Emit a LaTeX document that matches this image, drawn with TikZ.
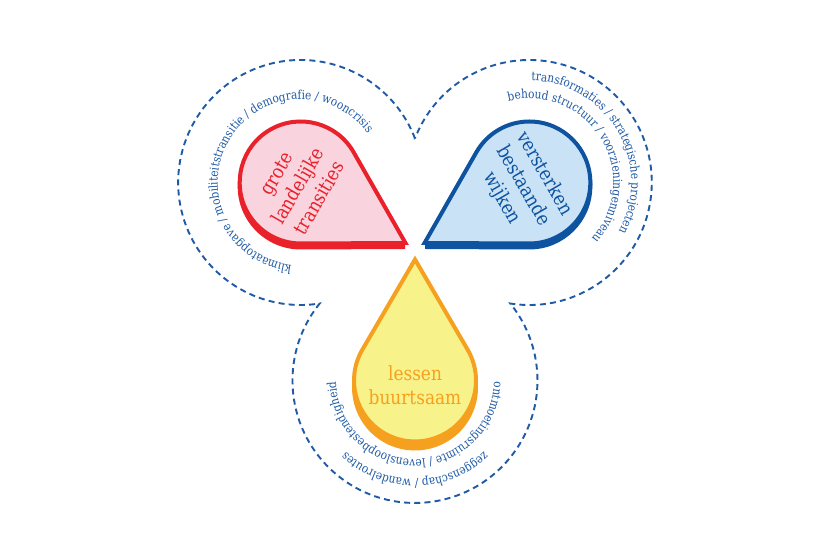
\documentclass[tikz,border=0pt]{standalone}
\usepackage{fontspec}
\setmainfont{DejaVu Serif}
\newfontfamily\outerfam{DejaVu Serif}[FakeStretch=0.86]
\newfontfamily\dropfam{DejaVu Serif}[FakeStretch=0.87]
\usetikzlibrary{decorations.text}
\definecolor{tblue}{HTML}{1F5AA6}
\definecolor{redline}{HTML}{E8212B}
\definecolor{redfill}{HTML}{F9D3DD}
\definecolor{blueline}{HTML}{0D53A0}
\definecolor{bluefill}{HTML}{C9E2F6}
\definecolor{yelfill}{HTML}{F8F28A}
\definecolor{orangeline}{HTML}{F5A01F}
\newcommand{\outerfont}{\outerfam\fontsize{12.3}{14}\selectfont}
\newcommand{\dropfont}{\dropfam\fontsize{19.5}{24.5}\selectfont}
\begin{document}
\begin{tikzpicture}[x=1pt,y=1pt,
  dropline/.style={line width=4pt, line join=miter},
  dashline/.style={draw=tblue, line width=1.9pt, dash pattern=on 6pt off 4.2pt},
  droptext/.style={font=\dropfont, align=center, inner sep=0pt}]
\useasboundingbox (0,0) rectangle (830,553);
\fill[white] (0,0) rectangle (830,553);

% ---- dashed outline: union of three circles ----
\draw[dashline] ([shift={(300.68,370.5)}]21.08:122.5)
  arc[start angle=21.08, end angle=278.92, radius=122.5pt]
  arc[start angle=141.08, end angle=398.92, radius=122.5pt]
  arc[start angle=261.08, end angle=518.92, radius=122.5pt] -- cycle;

% ---- red drop ----
\begin{scope}
  \clip (0,0) rectangle (405,553);
  \begin{scope}[shift={(300.68,366.5)}]
    \filldraw[redline, dropline] (-30:121) -- (29.73:61)
      arc[start angle=29.73, end angle=270.27, radius=61pt] -- cycle;
  \end{scope}
\end{scope}
\begin{scope}[shift={(300.68,370.5)}]
  \filldraw[draw=redline, fill=redfill, dropline] (-30:121) -- (29.73:61)
    arc[start angle=29.73, end angle=270.27, radius=61pt] -- cycle;
\end{scope}

% ---- blue drop ----
\begin{scope}
  \clip (425,0) rectangle (830,553);
  \begin{scope}[shift={(529.32,366.5)}]
    \filldraw[blueline, dropline] (210:121) -- (269.73:61)
      arc[start angle=269.73, end angle=510.27, radius=61pt] -- cycle;
  \end{scope}
\end{scope}
\begin{scope}[shift={(529.32,370.5)}]
  \filldraw[draw=blueline, fill=bluefill, dropline] (210:121) -- (269.73:61)
    arc[start angle=269.73, end angle=510.27, radius=61pt] -- cycle;
\end{scope}

% ---- yellow drop ----
\begin{scope}[shift={(415,165.5)}]
  \filldraw[orangeline, dropline] (90:121) -- (149.73:61)
    arc[start angle=149.73, end angle=390.27, radius=61pt] -- cycle;
\end{scope}
\begin{scope}[shift={(415,172.5)}]
  \filldraw[draw=orangeline, fill=yelfill, dropline] (90:121) -- (149.73:61)
    arc[start angle=149.73, end angle=390.27, radius=61pt] -- cycle;
\end{scope}

% ---- drop texts ----
\node[droptext, text=redline, rotate=60] (redtext) at (298,367) {grote\\landelijke\\transities};
\node[droptext, text=blueline, rotate=-60] (bluetext) at (523,367) {versterken\\bestaande\\wijken};
\node[droptext, text=orangeline] (yeltext) at (415,168) {lessen\\buurtsaam};

% ---- outer texts along circles ----
\path[decorate, decoration={text along path, text align=center,
  text={|\outerfont\color{tblue}|klimaatopgave / mobiliteitstransitie / demografie / wooncrisis}}]
  ([shift={(300.68,370.5)}]320:83) arc[start angle=320, end angle=-20, radius=83pt];

\path[decorate, decoration={text along path, text align=center,
  text={|\outerfont\color{tblue}|transformaties / strategische projecten}}]
  ([shift={(529.32,370.5)}]200:102) arc[start angle=200, end angle=-140, radius=102pt];
\path[decorate, decoration={text along path, text align=center,
  text={|\outerfont\color{tblue}|behoud structuur / voorzieningenniveau}}]
  ([shift={(529.32,370.5)}]201:84) arc[start angle=201, end angle=-139, radius=84pt];

\path[decorate, decoration={text along path, text align=center,
  text={|\outerfont\color{tblue}|ontmoetingsruimte / levensloopbestendigheid}}]
  ([shift={(415,172.5)}]440:79) arc[start angle=440, end angle=100, radius=79pt];
\path[decorate, decoration={text along path, text align=center,
  text={|\outerfont\color{tblue}|zeggenschap / wandelroutes}}]
  ([shift={(415,172.5)}]440:99) arc[start angle=440, end angle=100, radius=99pt];
\end{tikzpicture}
\end{document}
